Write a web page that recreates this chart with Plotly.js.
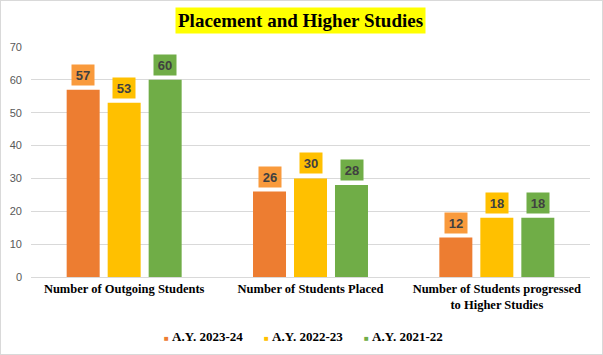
<!DOCTYPE html>
<html>
<head>
<meta charset="utf-8">
<script src="https://cdn.plot.ly/plotly-3.0.1.min.js"></script>
<style>
html,body{margin:0;padding:0;background:#fff;}
#wrap{width:603px;height:355px;box-sizing:border-box;border:1px solid #d9d9d9;position:relative;overflow:hidden;}
#chart{position:absolute;left:-1px;top:-1px;width:603px;height:355px;}
</style>
</head>
<body>
<div id="wrap"><div id="chart"></div></div>
<script>
const categories = ["Number of Outgoing Students", "Number of Students Placed", "Number of Students progressed<br>to Higher Studies"];
const seriesNames = ["A.Y. 2023-24", "A.Y. 2022-23", "A.Y. 2021-22"];
const values2324 = [57, 26, 12];
const values2223 = [53, 30, 18];
const values2122 = [60, 28, 18];
const yTicks = [0, 10, 20, 30, 40, 50, 60, 70];

const allValues = [values2324, values2223, values2122];
const barColors = ["#ED7D31", "#FFC000", "#70AD47"];
const boxColors = ["#F99A3C", "#FFC000", "#70AD47"];
const offsets = [-41, 0, 41];

const serif = "Liberation Serif, Times New Roman, serif";
const sans = "Liberation Sans, Arial, sans-serif";

const traces = allValues.map((vals, i) => ({
  type: "bar",
  name: seriesNames[i],
  x: categories,
  y: vals,
  marker: {color: barColors[i]},
  hoverinfo: "none",
  showlegend: false
}));

const annotations = [];
allValues.forEach((vals, i) => {
  vals.forEach((v, j) => {
    annotations.push({
      x: categories[j], y: v, xref: "x", yref: "y",
      xshift: offsets[i], yshift: 4,
      yanchor: "bottom", xanchor: "center",
      text: "<b>" + v + "</b>",
      showarrow: false,
      bgcolor: boxColors[i],
      width: 20, height: 18, borderpad: 1,
      font: {family: sans, size: 13, color: "#404040"}
    });
  });
});
// title
annotations.push({
  xref: "paper", yref: "paper", x: 0.483, y: 1.0, yshift: 26.5,
  xanchor: "center", yanchor: "middle",
  text: "<b>Placement and Higher Studies</b>",
  showarrow: false, bgcolor: "#FFFF00", borderpad: 2,
  font: {family: serif, size: 19, color: "#000"}
});
// legend
seriesNames.forEach((name, i) => {
  annotations.push({
    xref: "paper", yref: "paper", x: 0.2343 + i * 0.1789, y: 0, yshift: -59,
    xanchor: "left", yanchor: "middle",
    text: "<span style='font-size:8px;color:" + barColors[i] + "'>■</span> <b>" + name + "</b>",
    showarrow: false,
    font: {family: serif, size: 13, color: "#000"}
  });
});

const layout = {
  width: 603, height: 355,
  margin: {l: 31, r: 13, t: 47, b: 78},
  paper_bgcolor: "#fff", plot_bgcolor: "#fff",
  bargap: 0.34, bargroupgap: 0.195, barmode: "group",
  showlegend: false,
  xaxis: {
    tickfont: {family: serif, size: 12.5, color: "#000", weight: "bold"},
    showline: true, linecolor: "#d9d9d9", linewidth: 1,
    ticks: "", showgrid: false, fixedrange: true, automargin: false
  },
  yaxis: {
    range: [0, 70], tickvals: yTicks, ticktext: yTicks.map(String),
    tickfont: {family: sans, size: 11, color: "#595959"},
    gridcolor: "#d9d9d9", gridwidth: 1, zeroline: false,
    showline: false, ticks: "", ticklabelstandoff: 8, fixedrange: true, automargin: false
  },
  annotations: annotations
};

Plotly.newPlot("chart", traces, layout, {displayModeBar: false, staticPlot: true});
</script>
</body>
</html>
